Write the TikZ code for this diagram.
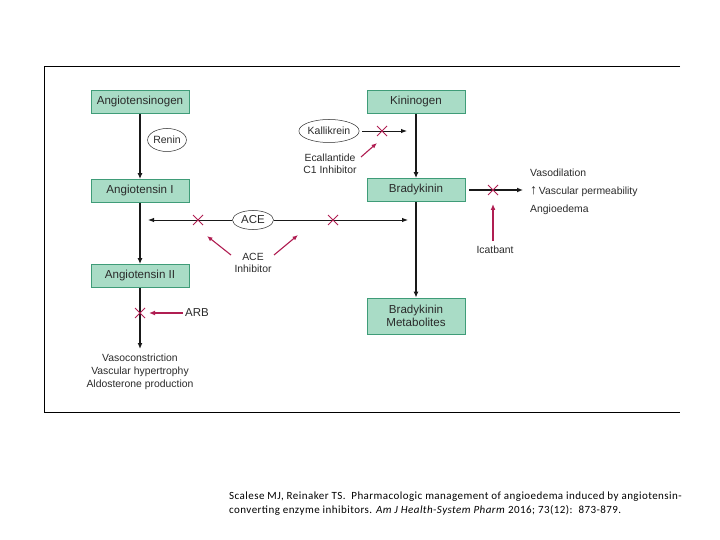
\documentclass[tikz,border=0pt]{standalone}
\usepackage{fontspec}
\setmainfont{Liberation Sans}
\newfontfamily\capfont{Carlito}[LetterSpace=4]
\usetikzlibrary{arrows.meta,shapes.geometric}
\definecolor{boxfill}{HTML}{A9DCC6}
\definecolor{boxline}{HTML}{3F9C78}
\definecolor{inh}{HTML}{B01E52}
\definecolor{txt}{HTML}{2A2A2A}
\begin{document}
\begin{tikzpicture}[x=1pt,y=-1pt,
  box/.style={draw=boxline, fill=boxfill, line width=0.8pt, minimum width=98pt, minimum height=23pt, inner sep=1pt, font=\fontsize{11.6}{12.5}\selectfont, text=txt, align=center},
  enz/.style={ellipse, draw=txt, line width=0.5pt, inner sep=0pt, font=\fontsize{10.5}{12}\selectfont, text=txt},
  lbl/.style={font=\fontsize{10.4}{12.5}\selectfont, text=txt, align=center, inner sep=0pt},
  flow/.style={draw=black!90, line width=1.3pt, -{Latex[length=6pt,width=5pt]}},
  thin/.style={draw=black!90, line width=0.9pt, -{Latex[length=6pt,width=4.5pt]}},
  red/.style={draw=inh, line width=1.1pt, -{Latex[length=5.5pt,width=4.5pt]}},
  redthick/.style={draw=inh, line width=1.6pt, -{Latex[length=6pt,width=5pt]}},
  xmark/.pic={\draw[inh, line width=1pt] (-5,-5)--(5,5) (-5,5)--(5,-5);}
]
\useasboundingbox (0,0) rectangle (720,540);
% frame
\draw[line width=0.9pt] (680,66) -- (44,66) -- (44,412) -- (680,412);

% RAS column
\node[box] (agen) at (140,102) {Angiotensinogen};
\node[box] (ang1) at (140,191) {Angiotensin I};
\node[box] (ang2) at (140,276) {Angiotensin II};
\node[enz, minimum width=38pt, minimum height=23pt] (renin) at (167,140) {Renin};
\draw[flow] (agen.south) -- (ang1.north);
\draw[flow] (ang1.south) -- (ang2.north);
\coordinate (raseff) at (140,349);
\draw[flow] (ang2.south) -- (raseff);
\node[lbl, anchor=north, font=\fontsize{10.4}{13}\selectfont] (rastext) at (140,354) {Vasoconstriction\\Vascular hypertrophy\\Aldosterone production};
\node[lbl, anchor=west, font=\fontsize{11.5}{12}\selectfont] (arb) at (185,313) {ARB};
\coordinate (arbtip) at (149,313);
\draw[redthick] (arb.west) ++(-2,0) -- (arbtip);
\pic at (140,313) {xmark};

% Kinin column
\node[box] (kgen) at (416,102) {Kininogen};
\node[box] (brady) at (416,190) {Bradykinin};
\node[box, minimum height=36pt, font=\fontsize{11.6}{13}\selectfont] (bmet) at (416,316) {Bradykinin\\Metabolites};
\draw[flow] (kgen.south) -- (brady.north);
\draw[flow] (brady.south) -- (bmet.north);
\node[enz, minimum width=57pt, minimum height=23pt] (kal) at (329,131) {Kallikrein};
\coordinate (kaltip) at (407,131);
\draw[thin] (kal.east) ++(3,0) -- (kaltip);
\pic at (382,131) {xmark};
\node[lbl] (ecal) at (330,164) {Ecallantide\\C1 Inhibitor};
\coordinate (ecaltip) at (377,143);
\draw[red] (361,157) -- (ecaltip);

% ACE
\node[enz, minimum width=41pt, minimum height=19pt, font=\fontsize{11.5}{12}\selectfont] (ace) at (253,220) {ACE};
\coordinate (aceL) at (148,220);
\coordinate (aceR) at (408,220);
\draw[thin] (ace.west) -- (aceL);
\draw[thin] (ace.east) -- (aceR);
\pic at (198,220) {xmark};
\pic at (333,220) {xmark};
\node[lbl] (acei) at (253,263) {ACE\\Inhibitor};
\coordinate (aceiL) at (207,236);
\coordinate (aceiR) at (298,235);
\draw[red] (231,255) -- (aceiL);
\draw[red] (274,255) -- (aceiR);

% Bradykinin effects
\coordinate (beff) at (523,190);
\draw[flow] (brady.east) ++(4,0) -- (beff);
\pic at (493,190) {xmark};
\node[lbl, anchor=west, align=left, font=\fontsize{10.4}{18}\selectfont] (effects) at (530,192) {Vasodilation\\{\fontsize{14}{12}\selectfont ↑}\,Vascular permeability\\Angioedema};
\node[lbl] (icat) at (495,250) {Icatbant};
\coordinate (icattip) at (493,204);
\draw[redthick] (493,241) -- (icattip);

% caption
\node[anchor=west, inner sep=0pt, font=\capfont\fontsize{11}{12}\selectfont] (cap1) at (229,497) {Scalese MJ, Reinaker TS.\ \ Pharmacologic management of angioedema induced by angiotensin-};
\node[anchor=west, inner sep=0pt, font=\capfont\fontsize{11}{12}\selectfont] (cap2) at (229,510) {converting enzyme inhibitors. \textit{Am J Health-System Pharm} 2016; 73(12):\ \ 873-879.};
\end{tikzpicture}
\end{document}
